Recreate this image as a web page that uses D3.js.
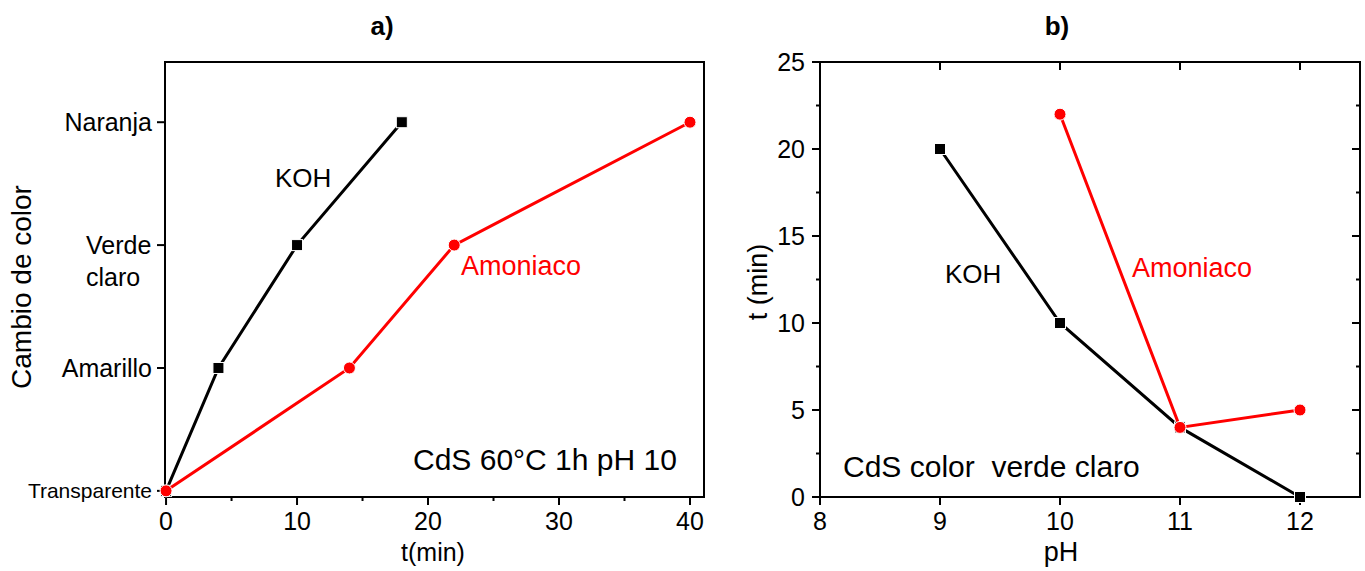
<!DOCTYPE html>
<html>
<head>
<meta charset="utf-8">
<script src="https://cdn.jsdelivr.net/npm/d3@7"></script>
<style>
  html, body { margin: 0; padding: 0; background: #fff; }
  svg text { font-family: "Liberation Sans", Arial, sans-serif; fill: #000; }
</style>
</head>
<body>
<svg id="chart" width="1365" height="571"></svg>
<script>
// Panel a: colour change over time
const colorLevels = ["Transparente", "Amarillo", "Verde claro", "Naranja"];
const kohTimeA = [0, 4, 10, 18];
const kohLevelA = [0, 1, 2, 3];
const nh3TimeA = [0, 14, 22, 40];
const nh3LevelA = [0, 1, 2, 3];
const timeTicksA = [0, 10, 20, 30, 40];

// Panel b: time to reach light green vs pH
const kohPH = [9, 10, 11, 12];
const kohTimeB = [20, 10, 4, 0];
const nh3PH = [10, 11, 12];
const nh3TimeB = [22, 4, 5];
const phTicks = [8, 9, 10, 11, 12];
const timeTicksB = [0, 5, 10, 15, 20, 25];

const RED = "#ff0000";
const svg = d3.select("#chart");

function frame(x, y) {
  const [x0, x1] = x.range();
  const [y0, y1] = y.range();
  svg.append("rect")
    .attr("x", x0).attr("y", y1)
    .attr("width", x1 - x0).attr("height", y0 - y1)
    .attr("fill", "none").attr("stroke", "#000").attr("stroke-width", 2);
}

function tick(x1, y1, x2, y2) {
  svg.append("line")
    .attr("x1", x1).attr("y1", y1).attr("x2", x2).attr("y2", y2)
    .attr("stroke", "#000").attr("stroke-width", 2);
}

function series(x, y, xs, ys, color, shape) {
  const pts = xs.map((v, i) => [x(v), y(ys[i])]);
  svg.append("path")
    .attr("d", d3.line()(pts))
    .attr("fill", "none").attr("stroke", color).attr("stroke-width", 3);
  pts.forEach(([px, py]) => {
    if (shape === "square") {
      svg.append("rect")
        .attr("x", px - 5.5).attr("y", py - 5.5)
        .attr("width", 11).attr("height", 11)
        .attr("fill", color).attr("stroke", "#fff").attr("stroke-width", 1);
    } else {
      svg.append("circle")
        .attr("cx", px).attr("cy", py).attr("r", 6)
        .attr("fill", color).attr("stroke", "#fff").attr("stroke-width", 1);
    }
  });
}

function label(txt, x, y, size, opts = {}) {
  const t = svg.append("text")
    .attr("x", x).attr("y", y)
    .attr("font-size", size)
    .attr("text-anchor", opts.anchor || "start")
    .text(txt);
  if (opts.color) t.style("fill", opts.color);
  if (opts.bold) t.attr("font-weight", "bold");
  if (opts.rotate) t.attr("transform", `rotate(-90,${x},${y})`);
  return t;
}

// ---------- Panel a ----------
const xa = d3.scaleLinear().domain([-0.08, 41.07]).range([165, 704]);
const ya = d3.scaleLinear().domain([-0.05, 3.49]).range([497, 62]);
frame(xa, ya);

// left ticks at colour levels
colorLevels.forEach((name, i) => {
  const py = ya(i);
  tick(157, py, 165, py);
  if (name === "Verde claro") {
    label("Verde", 86, py + 9, 25);
    label("claro", 86, py + 41, 25);
  } else if (name === "Transparente") {
    label(name, 152, py + 7, 21, { anchor: "end" });
  } else {
    label(name, 152, py + 9, 25, { anchor: "end" });
  }
});
// bottom ticks: majors every 10, minors every 5
d3.range(0, 41, 5).forEach(v => {
  const major = v % 10 === 0;
  tick(xa(v), 497, xa(v), 497 + (major ? 8 : 4));
});
timeTicksA.forEach(v => label(String(v), xa(v), 530, 25, { anchor: "middle" }));

label("t(min)", 433, 561, 25, { anchor: "middle" });
label("Cambio de color", 31, 287, 28, { anchor: "middle", rotate: true });
label("a)", 382, 35, 26, { anchor: "middle", bold: true });

series(xa, ya, kohTimeA, kohLevelA, "#000", "square");
series(xa, ya, nh3TimeA, nh3LevelA, RED, "circle");

label("KOH", 275, 187, 26);
label("Amoniaco", 461, 275, 27, { color: RED });
label("CdS 60°C 1h pH 10", 413, 470, 30);

// ---------- Panel b ----------
const xb = d3.scaleLinear().domain([8, 12.5]).range([820, 1360]);
const yb = d3.scaleLinear().domain([0, 25]).range([497, 62]);
frame(xb, yb);

d3.range(0, 25.1, 2.5).forEach(v => {
  const major = v % 5 === 0;
  const py = yb(v);
  tick(820 - (major ? 8 : 4), py, 820, py);
  tick(1360, py, 1360 - (major ? 8 : 4), py);
});
timeTicksB.forEach(v => label(String(v), 805, yb(v) + 9, 25, { anchor: "end" }));

phTicks.forEach(v => {
  tick(xb(v), 497, xb(v), 505);
  tick(xb(v), 62, xb(v), 70);
  label(String(v), xb(v), 530, 25, { anchor: "middle" });
});

label("pH", 1061, 561, 27, { anchor: "middle" });
label("t (min)", 767, 282, 27, { anchor: "middle", rotate: true });
label("b)", 1057, 35, 26, { anchor: "middle", bold: true });

series(xb, yb, kohPH, kohTimeB, "#000", "square");
series(xb, yb, nh3PH, nh3TimeB, RED, "circle");

label("KOH", 945, 283, 26);
label("Amoniaco", 1132, 277, 27, { color: RED });
label("CdS color\u00a0 verde claro", 843, 477, 30);
</script>
</body>
</html>
